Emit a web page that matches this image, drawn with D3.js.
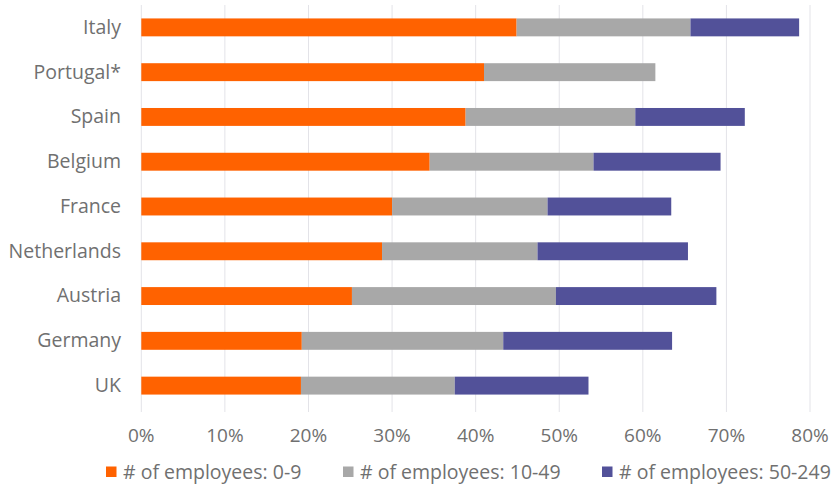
<!DOCTYPE html>
<html>
<head>
<meta charset="utf-8">
<script src="https://cdn.jsdelivr.net/npm/d3@7"></script>
<style>
  html, body { margin: 0; padding: 0; background: #fff; }
  svg { display: block; }
  text { font-family: "Open Sans", "Noto Sans", sans-serif; fill: #707070; }
</style>
</head>
<body>
<svg id="chart" width="840" height="486"></svg>
<script>
const countries = ["Italy", "Portugal*", "Spain", "Belgium", "France", "Netherlands", "Austria", "Germany", "UK"];
const emp0to9 =    [44.9, 41.0, 38.8, 34.5, 30.0, 28.8, 25.2, 19.2, 19.1];
const emp10to49 =  [20.8, 20.5, 20.3, 19.6, 18.6, 18.6, 24.4, 24.1, 18.4];
const emp50to249 = [13.0, 0.0, 13.1, 15.2, 14.8, 18.0, 19.2, 20.2, 16.0];
const seriesNames = ["# of employees: 0-9", "# of employees: 10-49", "# of employees: 50-249"];
const seriesColors = ["#ff6200", "#a8a8a8", "#525199"];
const tickValues = [0, 10, 20, 30, 40, 50, 60, 70, 80];

const svg = d3.select("#chart");
const plotLeft = 141.3, plotRight = 810, plotTop = 5, plotBottom = 408;

const x = d3.scaleLinear().domain([0, 80]).range([plotLeft, plotRight]);
const y = d3.scaleBand().domain(countries).range([plotTop, plotBottom]).paddingInner(0.6).paddingOuter(0.3);

// gridlines
svg.append("g").selectAll("line").data(tickValues).join("line")
  .attr("x1", d => x(d)).attr("x2", d => x(d))
  .attr("y1", plotTop).attr("y2", plotBottom + 4)
  .attr("stroke", "#e3e3e8").attr("stroke-width", 1);

const rows = countries.map((c, i) => ({country: c, s0: emp0to9[i], s1: emp10to49[i], s2: emp50to249[i]}));
const stack = d3.stack().keys(["s0", "s1", "s2"])(rows);

svg.append("g").selectAll("g").data(stack).join("g")
  .attr("fill", (d, i) => seriesColors[i])
  .selectAll("rect").data(d => d.filter(p => p[1] - p[0] > 0)).join("rect")
  .attr("x", d => x(d[0]))
  .attr("width", d => x(d[1]) - x(d[0]))
  .attr("y", d => y(d.data.country))
  .attr("height", y.bandwidth());

// category labels
svg.append("g").selectAll("text").data(countries).join("text")
  .attr("x", 121)
  .attr("y", d => y(d) + y.bandwidth() / 2)
  .attr("dy", "0.33em")
  .attr("text-anchor", "end")
  .attr("font-size", 19.5)
  .text(d => d);

// x axis tick labels
svg.append("g").selectAll("text").data(tickValues).join("text")
  .attr("x", d => x(d))
  .attr("y", 435)
  .attr("dy", "0.35em")
  .attr("text-anchor", "middle")
  .attr("font-size", 19)
  .text(d => d + "%");

// legend
const legendX = [106, 343, 602];
const lg = svg.append("g").selectAll("g").data(seriesNames).join("g")
  .attr("transform", (d, i) => `translate(${legendX[i]},472)`);
lg.append("rect").attr("x", 0).attr("y", -5.5).attr("width", 10.5).attr("height", 10.5)
  .attr("fill", (d, i) => seriesColors[i]);
lg.append("text").attr("x", 17).attr("y", 0).attr("dy", "0.35em")
  .attr("font-size", 19.5).text(d => d);
</script>
</body>
</html>
